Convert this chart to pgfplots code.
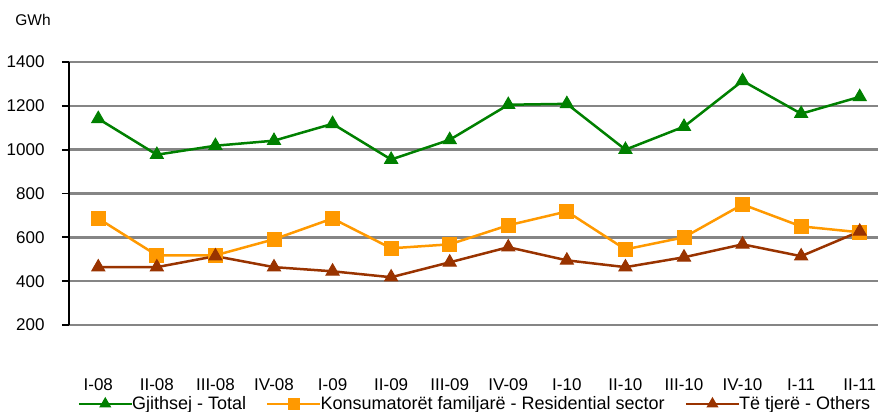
\documentclass[border=0pt]{standalone}
\usepackage{fontspec}
\setmainfont{Liberation Sans}
\usepackage{pgfplots}
\pgfplotsset{compat=1.18}
\definecolor{cgreen}{HTML}{008000}
\definecolor{corange}{HTML}{FF9900}
\definecolor{cbrown}{HTML}{993300}
\definecolor{cgrid}{HTML}{858585}
\begin{document}
\begin{tikzpicture}
\clip (0pt,0pt) rectangle (878pt,412pt);
\path[use as bounding box] (0pt,0pt) rectangle (878pt,412pt);
\node[font=\fontsize{15.5}{18}\selectfont] at (33pt,392pt) {GWh};
\begin{axis}[
  at={(69pt,87pt)}, anchor=south west,
  scale only axis, width=820pt, height=263pt,
  xmin=-0.5, xmax=13.5, ymin=200, ymax=1400,
  ytick={200,400,...,1400},
  xtick={0,...,13},
  xticklabels={I-08,II-08,III-08,IV-08,I-09,II-09,III-09,IV-09,I-10,II-10,III-10,IV-10,I-11,II-11},
  axis y line=left, axis x line=bottom,
  x axis line style={draw=none},
  y axis line style={-, black, line width=2.2pt},
  xtick style={draw=none},
  ytick style={black, line width=1.8pt},
  tick align=outside, major tick length=7pt,
  ymajorgrids, major grid style={cgrid, line width=2.6pt},
  /pgf/number format/assume math mode=true,
  /pgf/number format/1000 sep={},
  tick label style={font=\fontsize{17}{20}\selectfont},
  yticklabel style={xshift=-14pt},
  xticklabel style={yshift=-43pt},
  legend columns=3,
  legend style={draw=none, fill=none, at={(0.495,-0.30)}, anchor=center,
    font=\fontsize{18}{21}\selectfont,
    /tikz/every even column/.append style={column sep=18pt},
    /tikz/every odd column/.append style={column sep=-3pt},
    inner sep=0pt},
  legend image code/.code={%
    \draw[#1, mark repeat=2, mark phase=2, every mark/.append style={scale=0.8}] plot coordinates {(0pt,0pt) (26.5pt,0pt) (53pt,0pt)};},
  clip=false,
]
\addplot[cgreen, line width=2.5pt, mark=triangle*, mark size=7.5pt, mark options={solid, line width=1pt}] coordinates {
(0,1141) (1,977) (2,1018) (3,1041) (4,1118) (5,955) (6,1045) (7,1205) (8,1209) (9,1000) (10,1105) (11,1314) (12,1164) (13,1241)};
\addlegendentry{Gjithsej - Total}
\addplot[corange, line width=2.5pt, mark=square*, mark size=7pt, mark options={solid, line width=1pt}] coordinates {
(0,686) (1,518) (2,518) (3,591) (4,686) (5,550) (6,568) (7,655) (8,718) (9,545) (10,600) (11,750) (12,650) (13,623)};
\addlegendentry{Konsumatorët familjarë - Residential sector}
\addplot[cbrown, line width=2.5pt, mark=triangle*, mark size=7.5pt, mark options={solid, line width=1pt}] coordinates {
(0,464) (1,464) (2,514) (3,464) (4,445) (5,418) (6,486) (7,555) (8,495) (9,464) (10,509) (11,568) (12,514) (13,627)};
\addlegendentry{Të tjerë - Others}
\end{axis}
\end{tikzpicture}
\end{document}
